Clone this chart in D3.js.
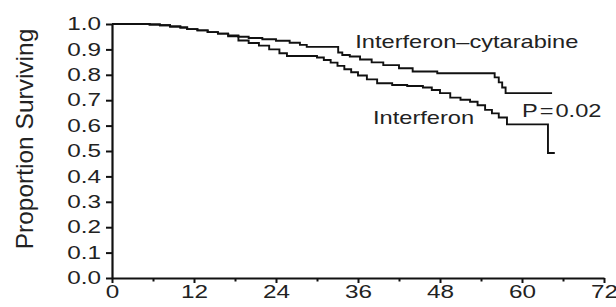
<!DOCTYPE html>
<html>
<head>
<meta charset="utf-8">
<script src="https://cdn.jsdelivr.net/npm/d3@7"></script>
<style>
  body { margin: 0; background: #fff; }
  svg { display: block; }
  text { font-family: "Liberation Sans", Arial, sans-serif; fill: #222; }
</style>
</head>
<body>
<script>
const width = 616;
const height = 307;

// months and survival proportion, Kaplan-Meier steps (last entry = end of follow-up)
const cytTimes = [0, 5.5, 7, 8.5, 10, 11, 12.5, 14, 15.5, 17, 18.5, 20, 22, 24, 26, 27.5, 28.5,
  33.1, 33.7, 34.8, 36.3, 38, 39.7, 42, 44, 47.6, 56, 56.6, 57.1, 57.6, 64.4];
const cytSurv = [1.0, 0.998, 0.995, 0.99, 0.986, 0.98, 0.975, 0.968, 0.962, 0.955, 0.95, 0.945, 0.94, 0.934, 0.926, 0.918, 0.91,
  0.888, 0.878, 0.872, 0.86, 0.849, 0.838, 0.826, 0.813, 0.806, 0.79, 0.77, 0.75, 0.728, 0.728];

const ifnTimes = [0, 5.5, 7, 8.5, 10, 11, 12.5, 14, 15.5, 17, 18.5, 20, 21.5, 23, 24.5, 25.6,
  30, 31, 32, 33, 34, 35, 36, 37.3, 38.8, 41, 43.2, 45.5, 46.8, 48, 49.5, 51, 52.4, 53.5,
  54.6, 55.6, 56.6, 57.8, 63.8, 64.8];
const ifnSurv = [1.0, 0.998, 0.995, 0.99, 0.986, 0.98, 0.975, 0.968, 0.962, 0.952, 0.935, 0.925, 0.915, 0.9, 0.885, 0.874,
  0.868, 0.858, 0.848, 0.835, 0.822, 0.81, 0.797, 0.782, 0.767, 0.76, 0.756, 0.75, 0.74, 0.728, 0.71, 0.702, 0.694, 0.68,
  0.662, 0.648, 0.632, 0.605, 0.492, 0.492];

const xTicks = [0, 12, 24, 36, 48, 60, 72];
const xMinorTicks = [6, 18, 30, 42, 54, 66];
const yTicks = [0, 0.1, 0.2, 0.3, 0.4, 0.5, 0.6, 0.7, 0.8, 0.9, 1.0];

const labels = [
  { text: "Interferon\u2013cytarabine", t: 35.6, s: 0.905 },
  { text: "Interferon", t: 38.2, s: 0.606 },
  { text: "P\u200A=\u200A0.02", t: 60.0, s: 0.634 }
];

const stretch = 1.35; // glyphs in the figure are wide
const fontSize = 18;

const svg = d3.select("body").append("svg")
  .attr("width", width)
  .attr("height", height);

const x = d3.scaleLinear().domain([0, 72]).range([112, 604]);
const y = d3.scaleLinear().domain([0, 1]).range([278, 24]);

// minor x ticks
svg.append("g")
  .attr("transform", `translate(0,${y(0)})`)
  .call(d3.axisBottom(x).tickValues(xMinorTicks).tickSize(3.5).tickFormat(""))
  .call(g => g.select(".domain").remove())
  .call(g => g.selectAll("line").attr("stroke", "#111").attr("stroke-width", 2));

const xAxis = svg.append("g")
  .attr("transform", `translate(0,${y(0)})`)
  .call(d3.axisBottom(x).tickValues(xTicks).tickSize(5).tickSizeOuter(0).tickFormat(d3.format("d")));

const yAxis = svg.append("g")
  .attr("transform", `translate(${x(0)},0)`)
  .call(d3.axisLeft(y).tickValues(yTicks).tickSize(6).tickSizeOuter(0).tickFormat(d3.format(".1f")));

[xAxis, yAxis].forEach(g => {
  g.select(".domain").attr("stroke", "#111").attr("stroke-width", 2.2);
  g.selectAll(".tick line").attr("stroke", "#111").attr("stroke-width", 2);
  g.selectAll("text")
    .attr("font-size", fontSize)
    .attr("font-family", "Liberation Sans, Arial, sans-serif")
    .attr("fill", "#222");
});

xAxis.selectAll("text").attr("y", 7).attr("transform", `scale(${stretch},1)`);
yAxis.selectAll("text").attr("x", -11 / stretch).attr("transform", `scale(${stretch},1)`);

// y title
svg.append("text")
  .attr("transform", "translate(33,139) rotate(-90)")
  .attr("text-anchor", "middle")
  .attr("font-size", 24.5)
  .text("Proportion Surviving");

// survival curves
const line = d3.line()
  .x(d => x(d[0]))
  .y(d => y(d[1]))
  .curve(d3.curveStepAfter);

const series = [
  d3.zip(cytTimes, cytSurv),
  d3.zip(ifnTimes, ifnSurv)
];

svg.selectAll("path.km")
  .data(series)
  .enter()
  .append("path")
  .attr("class", "km")
  .attr("d", line)
  .attr("fill", "none")
  .attr("stroke", "#111")
  .attr("stroke-width", 1.9);

svg.selectAll("text.lbl")
  .data(labels)
  .enter()
  .append("text")
  .attr("class", "lbl")
  .attr("transform", d => `translate(${x(d.t)},${y(d.s)}) scale(${stretch},1)`)
  .attr("font-size", 17.5)
  .text(d => d.text);
</script>
</body>
</html>
